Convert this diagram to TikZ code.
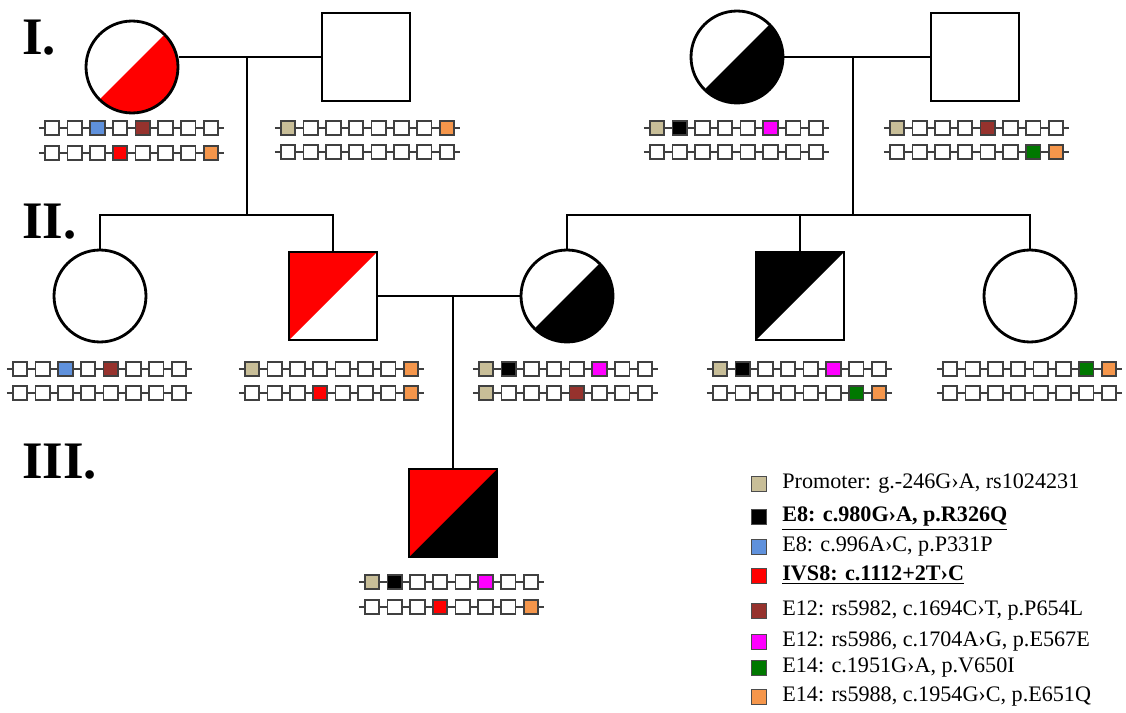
\documentclass[tikz,border=0pt]{standalone}
\usepackage{fontspec}
\setmainfont{Liberation Serif}
\usetikzlibrary{positioning, calc}

% variant colours
\definecolor{vTan}{RGB}{200,190,152}
\definecolor{vBlue}{RGB}{95,145,220}
\definecolor{vRed}{RGB}{255,0,0}
\definecolor{vBrown}{RGB}{150,50,45}
\definecolor{vMag}{RGB}{255,0,255}
\definecolor{vGreen}{RGB}{0,120,0}
\definecolor{vOrange}{RGB}{245,150,75}

% one haplotype: name, x, y, colours of the 8 boxes
\newcommand{\hapbar}[4]{%
  \foreach \col [count=\i] in {#4}
    \node[hapbox, fill=\col] (#1-\i) at ({#2+(\i-1)*22.7}, #3) {};
  \draw[hapline] ([xshift=-0.1cm]#1-1.west) -- (#1-1.west);
  \foreach \i [count=\j from 2] in {1,...,7}
    \draw[hapline] (#1-\i.east) -- (#1-\j.west);
  \draw[hapline] (#1-8.east) -- ([xshift=0.1cm]#1-8.east);
}

\begin{document}
\begin{tikzpicture}[x=0.02cm, y=-0.02cm,
    female/.style={circle, draw, line width=1.6pt, minimum size=1.84cm, inner sep=0},
    male/.style={rectangle, draw, line width=1.6pt, minimum size=1.76cm, inner sep=0},
    halfdown/.style={path picture={\fill[#1] (path picture bounding box.south west) -- (path picture bounding box.north east) -- (path picture bounding box.south east) -- cycle;}},
    halfup/.style={path picture={\fill[#1] (path picture bounding box.south west) -- (path picture bounding box.north west) -- (path picture bounding box.north east) -- cycle;}},
    pedline/.style={line width=1.6pt},
    hapbox/.style={rectangle, draw=black!75, line width=1pt, minimum size=0.29cm, inner sep=0},
    hapline/.style={draw=black!75, line width=0.9pt},
    legbox/.style={rectangle, draw=black!70, line width=0.6pt, minimum size=0.3cm, inner sep=0},
    legtext/.style={anchor=west, inner sep=0, font=\fontsize{12.6}{14}\selectfont, text height=1.6ex, text depth=0.4ex},
    genlabel/.style={anchor=west, inner sep=0, font=\fontsize{30}{32}\selectfont\bfseries}]
  \useasboundingbox (0,0) rectangle (1126,713);

  % Generation labels
  \node[genlabel] (gI) at (22,38) {I.};
  \node[genlabel] (gII) at (22,222) {II.};
  \node[genlabel] (gIII) at (22,462) {III.};

  % Generation I
  \node[female, halfdown=vRed] (I1) at (132,67) {};
  \node[male] (I2) at (366,57) {};
  \node[female, halfdown=black] (I3) at (737,57) {};
  \node[male] (I4) at (975,57) {};

  % Generation II
  \node[female] (II1) at (100,296) {};
  \node[male, halfup=vRed] (II2) at (333,296) {};
  \node[female, halfdown=black] (II3) at (567,296) {};
  \node[male, halfup=black] (II4) at (800,296) {};
  \node[female] (II5) at (1030,296) {};

  % Generation III
  \node[male, fill=black, halfup=vRed] (III1) at (453,513) {};

  % Couples and sibships
  \coordinate (m1) at (247,57);
  \coordinate (s1) at (247,215);
  \draw[pedline] (I1.east |- m1) -- (I2.west);
  \draw[pedline] (m1) -- (s1);
  \draw[pedline] (II1.north) -- (II1.north |- s1) -- (II2.north |- s1) -- (II2.north);

  \coordinate (m2) at (853,57);
  \coordinate (s2) at (853,215);
  \draw[pedline] (I3.east) -- (I4.west);
  \draw[pedline] (m2) -- (s2);
  \draw[pedline] (II3.north) -- (II3.north |- s2) -- (II5.north |- s2) -- (II5.north);
  \draw[pedline] (II4.north |- s2) -- (II4.north);

  \draw[pedline] (II2.east) -- (II3.west);
  \draw[pedline] (III1.north |- II2.east) -- (III1.north);

  % Haplotypes
  \hapbar{a1}{52}{128}{white,white,vBlue,white,vBrown,white,white,white}
  \hapbar{a2}{52}{153}{white,white,white,vRed,white,white,white,vOrange}
  \hapbar{b1}{288}{128}{vTan,white,white,white,white,white,white,vOrange}
  \hapbar{b2}{288}{152}{white,white,white,white,white,white,white,white}
  \hapbar{c1}{657}{128}{vTan,black,white,white,white,vMag,white,white}
  \hapbar{c2}{657}{152}{white,white,white,white,white,white,white,white}
  \hapbar{d1}{897}{128}{vTan,white,white,white,vBrown,white,white,white}
  \hapbar{d2}{897}{152}{white,white,white,white,white,white,vGreen,vOrange}

  \hapbar{e1}{20}{369}{white,white,vBlue,white,vBrown,white,white,white}
  \hapbar{e2}{20}{393}{white,white,white,white,white,white,white,white}
  \hapbar{f1}{252}{369}{vTan,white,white,white,white,white,white,vOrange}
  \hapbar{f2}{252}{393}{white,white,white,vRed,white,white,white,vOrange}
  \hapbar{g1}{486}{369}{vTan,black,white,white,white,vMag,white,white}
  \hapbar{g2}{486}{393}{vTan,white,white,white,vBrown,white,white,white}
  \hapbar{h1}{720}{369}{vTan,black,white,white,white,vMag,white,white}
  \hapbar{h2}{720}{393}{white,white,white,white,white,white,vGreen,vOrange}
  \hapbar{k1}{950}{369}{white,white,white,white,white,white,vGreen,vOrange}
  \hapbar{k2}{950}{393}{white,white,white,white,white,white,white,white}

  \hapbar{n1}{372}{582}{vTan,black,white,white,white,vMag,white,white}
  \hapbar{n2}{372}{607}{white,white,white,vRed,white,white,white,vOrange}

  % Legend
  \node[legbox, fill=vTan] (L1) at (759,484) {};
  \node[legbox, fill=black] (L2) at (759,517) {};
  \node[legbox, fill=vBlue] (L3) at (759,547) {};
  \node[legbox, fill=vRed] (L4) at (759,576) {};
  \node[legbox, fill=vBrown] (L5) at (759,611) {};
  \node[legbox, fill=vMag] (L6) at (759,642) {};
  \node[legbox, fill=vGreen] (L7) at (759,668) {};
  \node[legbox, fill=vOrange] (L8) at (759,697) {};
  \node[legtext, right=0.46cm of L1.center] (T1) {Promoter: g.-246G›A, rs1024231};
  \node[legtext, right=0.46cm of L2.center] (T2) {\underline{\textbf{E8: c.980G›A, p.R326Q}}};
  \node[legtext, right=0.46cm of L3.center] (T3) {E8: c.996A›C, p.P331P};
  \node[legtext, right=0.46cm of L4.center] (T4) {\underline{\textbf{IVS8: c.1112+2T›C}}};
  \node[legtext, right=0.46cm of L5.center] (T5) {E12: rs5982, c.1694C›T, p.P654L};
  \node[legtext, right=0.46cm of L6.center] (T6) {E12: rs5986, c.1704A›G, p.E567E};
  \node[legtext, right=0.46cm of L7.center] (T7) {E14: c.1951G›A, p.V650I};
  \node[legtext, right=0.46cm of L8.center] (T8) {E14: rs5988, c.1954G›C, p.E651Q};
\end{tikzpicture}
\end{document}
